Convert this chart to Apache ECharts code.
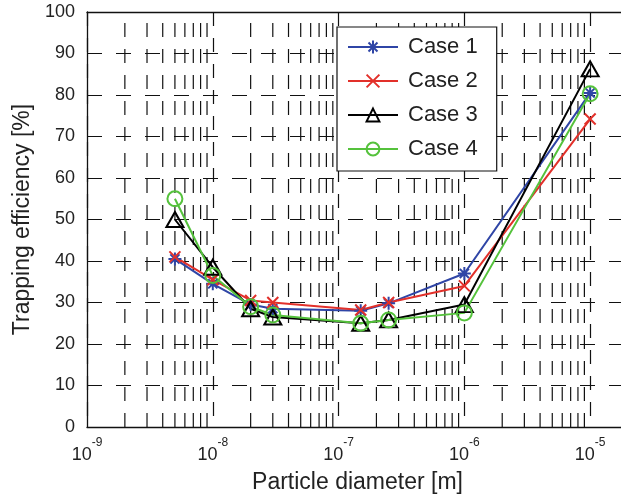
<!DOCTYPE html>
<html>
<head>
<meta charset="utf-8">
<script src="https://cdn.jsdelivr.net/npm/echarts@6/dist/echarts.min.js"></script>
<style>
  html, body { margin: 0; padding: 0; background: #fff; }
  #chart { width: 621px; height: 496px; }
</style>
</head>
<body>
<div id="chart"></div>
<script>
// particle diameters [m]
var diameters = [5e-9, 1e-8, 2e-8, 3e-8, 1.5e-7, 2.5e-7, 1e-6, 1e-5];

// trapping efficiency [%]
var case1 = [40.5, 34.5, 29.5, 28.5, 28.0, 29.8, 37.0, 80.5];
var case2 = [41.0, 35.5, 30.5, 30.0, 28.2, 30.0, 34.0, 74.2];
var case3 = [50.0, 38.5, 28.5, 26.5, 25.0, 25.8, 29.5, 86.3];
var case4 = [55.0, 36.5, 29.0, 27.0, 25.0, 25.8, 27.5, 80.3];

var seriesNames = ['Case 1', 'Case 2', 'Case 3', 'Case 4'];

// minor log grid: 2..9 x 10^n, as vertical segments 0..100 broken by nulls
var minorTicks = [];
for (var n = -9; n <= -6; n++) {
  for (var k = 2; k <= 9; k++) minorTicks.push(k * Math.pow(10, n));
}
var minorGrid = [];
minorTicks.forEach(function (t) {
  minorGrid.push([t, 0], [t, 100], [t, null]);
});

var FONT = '"Liberation Sans", Arial, Helvetica, sans-serif';
var gridDash = { color: '#111', width: 1.2, type: [14, 12] };

function pairs(vals) {
  return vals.map(function (v, i) { return [diameters[i], v]; });
}

function powLabel(v) {
  var p = Math.log10(v);
  var r = Math.round(p);
  if (Math.abs(p - r) > 1e-6) return '';
  return '{b|10}{s|' + r + '}';
}

var myChart = echarts.init(document.getElementById('chart'));

var option = {
  animation: false,
  backgroundColor: '#fff',
  textStyle: { fontFamily: FONT },
  grid: { left: 87, width: 541, top: 12, bottom: 69, containLabel: false, outerBoundsMode: 'none' },
  legend: {
    data: seriesNames,
    orient: 'vertical',
    left: 337,
    top: 27,
    backgroundColor: '#fff',
    borderColor: '#111',
    borderWidth: 1.2,
    borderRadius: 0,
    padding: [7, 19, 9, 10],
    itemWidth: 50,
    itemHeight: 16,
    itemGap: 8,
    textStyle: { fontSize: 22, color: '#222', lineHeight: 26, padding: [0, 0, 0, 5], fontFamily: FONT }
  },
  xAxis: [{
    type: 'log',
    logBase: 10,
    min: 1e-9,
    max: 2e-5,
    name: 'Particle diameter [m]',
    nameLocation: 'middle',
    nameGap: 44,
    nameTextStyle: { fontSize: 23, color: '#222' },
    axisLine: { lineStyle: { color: '#111', width: 1.3 } },
    axisTick: { show: false },
    axisLabel: {
      margin: 10,
      formatter: powLabel,
      rich: {
        b: { fontSize: 18, color: '#222', verticalAlign: 'bottom', lineHeight: 27 },
        s: { fontSize: 12, color: '#222', verticalAlign: 'top', lineHeight: 27 }
      }
    },
    splitLine: { show: true, lineStyle: gridDash }
  }, {
    type: 'log',
    logBase: 10,
    min: 1e-9,
    max: 2e-5,
    position: 'top',
    axisLine: { lineStyle: { color: '#111', width: 1.3 } },
    axisTick: { show: false },
    axisLabel: { show: false },
    splitLine: { show: false }
  }],
  yAxis: {
    type: 'value',
    min: 0,
    max: 100,
    interval: 10,
    name: 'Trapping efficiency [%]',
    nameLocation: 'middle',
    nameGap: 47,
    nameTextStyle: { fontSize: 23, color: '#222' },
    axisLine: { show: true, lineStyle: { color: '#111', width: 1.3 } },
    axisTick: { show: true, inside: true, length: 5, lineStyle: { color: '#111' } },
    axisLabel: { fontSize: 18, color: '#222', margin: 12 },
    splitLine: { show: true, lineStyle: { color: '#111', width: 1.2, type: [15, 14] } }
  },
  series: [
    {
      name: 'minor grid',
      type: 'line',
      data: minorGrid,
      silent: true,
      z: 1,
      symbol: 'none',
      connectNulls: false,
      lineStyle: gridDash,
      tooltip: { show: false }
    },
    {
      name: 'Case 1',
      type: 'line',
      data: pairs(case1),
      z: 3,
      symbol: 'path://M0,-1L0,1M-1,0L1,0M-0.7,-0.7L0.7,0.7M-0.7,0.7L0.7,-0.7',
      symbolSize: 13,
      lineStyle: { color: '#2f45a6', width: 2 },
      itemStyle: { color: '#2f45a6', borderColor: '#2f45a6', borderWidth: 2 }
    },
    {
      name: 'Case 2',
      type: 'line',
      data: pairs(case2),
      z: 3,
      symbol: 'path://M-1,-1L1,1M-1,1L1,-1',
      symbolSize: 11,
      lineStyle: { color: '#e2302a', width: 2 },
      itemStyle: { color: '#e2302a', borderColor: '#e2302a', borderWidth: 2 }
    },
    {
      name: 'Case 3',
      type: 'line',
      data: pairs(case3),
      z: 3,
      symbol: 'triangle',
      symbolSize: [17, 15],
      lineStyle: { color: '#000', width: 2 },
      itemStyle: { color: 'rgba(0,0,0,0)', borderColor: '#000', borderWidth: 2 }
    },
    {
      name: 'Case 4',
      type: 'line',
      data: pairs(case4),
      z: 3,
      symbol: 'circle',
      symbolSize: 15,
      lineStyle: { color: '#55c23c', width: 2 },
      itemStyle: { color: 'rgba(0,0,0,0)', borderColor: '#55c23c', borderWidth: 2 }
    }
  ]
};

myChart.setOption(option);
</script>
</body>
</html>
